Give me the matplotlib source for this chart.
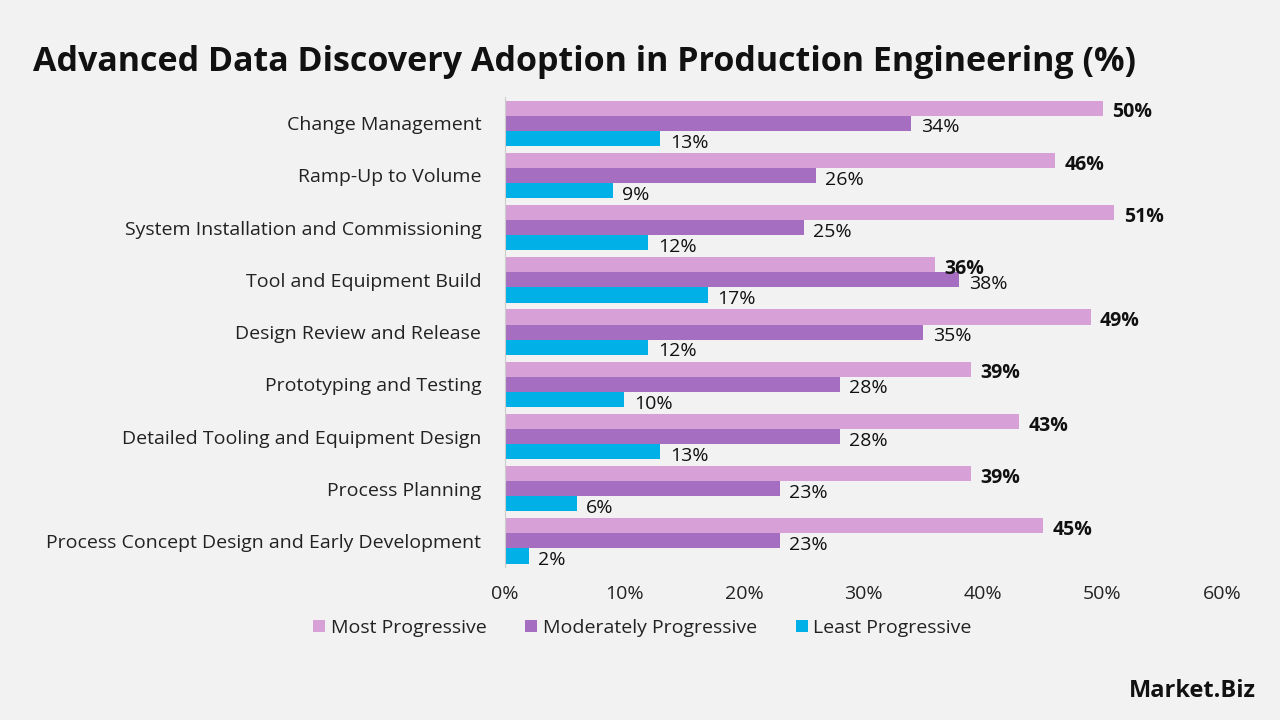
import matplotlib.pyplot as plt
import numpy as np

categories = [
    "Change Management",
    "Ramp-Up to Volume",
    "System Installation and Commissioning",
    "Tool and Equipment Build",
    "Design Review and Release",
    "Prototyping and Testing",
    "Detailed Tooling and Equipment Design",
    "Process Planning",
    "Process Concept Design and Early Development",
]
most = [50, 46, 51, 36, 49, 39, 43, 39, 45]
moderate = [34, 26, 25, 38, 35, 28, 28, 23, 23]
least = [13, 9, 12, 17, 12, 10, 13, 6, 2]

series_names = ["Most Progressive", "Moderately Progressive", "Least Progressive"]
colors = ["#d7a1d8", "#a66ec0", "#00b0e6"]

plt.rcParams['font.family'] = ['Open Sans', 'DejaVu Sans']
bg = "#f2f2f2"
txt = "#222222"

fig = plt.figure(figsize=(12.8, 7.2), dpi=100, facecolor=bg)
ax = fig.add_axes([0.3945, 0.2125, 0.5602, 0.6525], facecolor=bg)

y = np.arange(len(categories))
h = 0.29
offsets = [-h, 0, h]
for vals, off, col, name in zip([most, moderate, least], offsets, colors, series_names):
    bars = ax.barh(y + off, vals, height=h, color=col, label=name)
    weight = 'bold' if name == "Most Progressive" else 'normal'
    for b, v in zip(bars, vals):
        ax.text(v + 0.8, b.get_y() + b.get_height() / 2 + 0.08, f"{v}%",
                va='center', ha='left', fontsize=14, fontweight=weight, color='#111111')

ax.set_ylim(len(categories) - 0.5, -0.5)
ax.set_xlim(0, 60)
ax.set_yticks(y)
ax.set_yticklabels(categories, fontsize=14, color=txt)
ax.set_xticks(range(0, 61, 10))
ax.set_xticklabels([f"{t}%" for t in range(0, 61, 10)], fontsize=14, color=txt)
ax.tick_params(axis='both', length=0)
ax.tick_params(axis='y', pad=17)
ax.tick_params(axis='x', pad=13)
for s in ['top', 'right', 'bottom']:
    ax.spines[s].set_visible(False)
ax.spines['left'].set_color('#cccccc')

fig.text(0.026, 0.914, "Advanced Data Discovery Adoption in Production Engineering (%)",
         fontsize=24.5, fontweight='bold', color='#111111', va='center')

leg = fig.legend(loc='center', bbox_to_anchor=(0.502, 0.128), ncol=3, frameon=False,
                 fontsize=14, handlelength=0.6, handleheight=0.6, handletextpad=0.3,
                 columnspacing=2.0)
for t in leg.get_texts():
    t.set_color(txt)

fig.text(0.981, 0.04, "Market.Biz", fontsize=17, fontweight='bold', ha='right',
         va='center', color='#111111')

fig.savefig("out.png", dpi=100, facecolor=bg)
